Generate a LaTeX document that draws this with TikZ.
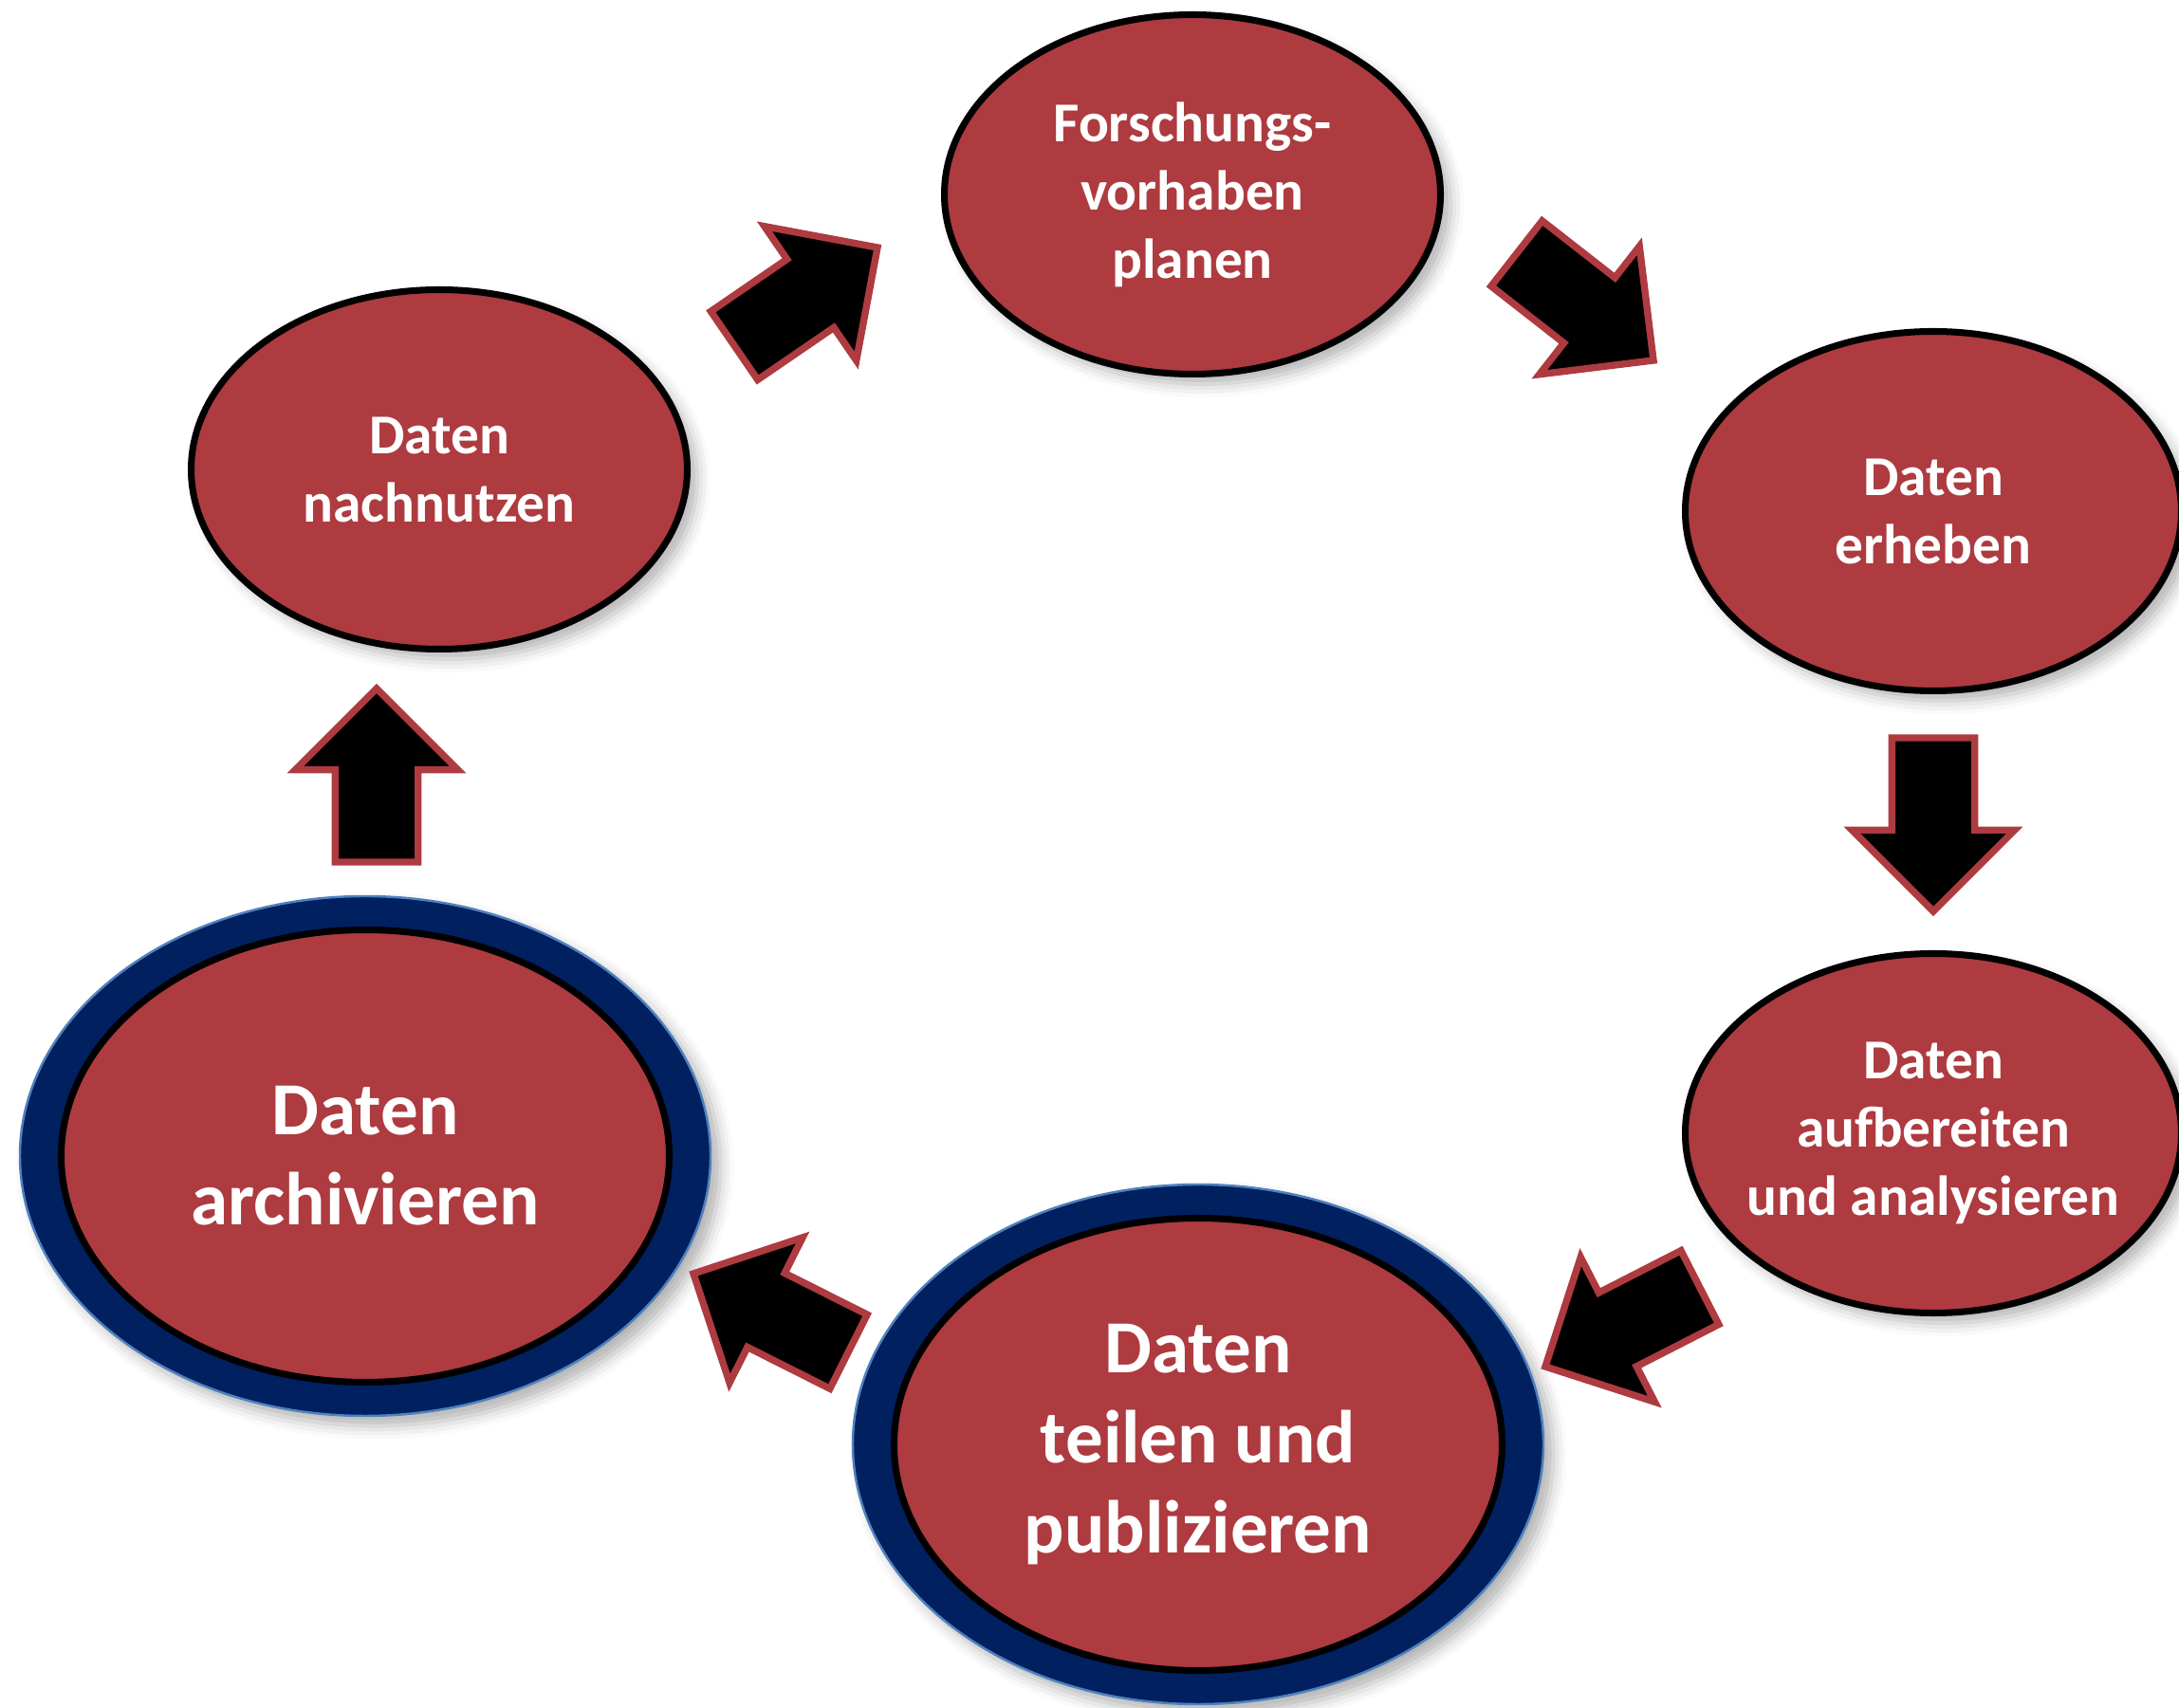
\documentclass[tikz,border=0pt]{standalone}
\usepackage{fontspec}
\newfontfamily\stagefont{Carlito}
\usetikzlibrary{shapes.geometric,shapes.arrows,shadows.blur}

\definecolor{stagered}{RGB}{173,59,64}
\definecolor{ringblue}{RGB}{0,32,96}
\definecolor{ringedge}{RGB}{79,129,189}

\tikzset{
  stage/.style={ellipse, draw=black, line width=2pt, fill=stagered,
    text=white, align=center, inner sep=0pt, inner xsep=-3mm,
    font=\stagefont\bfseries\fontsize{16.9}{20.5}\selectfont,
    minimum width=5.23cm, minimum height=3.79cm},
  shade/.style={blur shadow={shadow xshift=3pt, shadow yshift=-3pt,
    shadow blur radius=4pt, shadow opacity=30}},
  bigstage/.style={stage, minimum width=6.41cm, minimum height=4.77cm,
    font=\stagefont\bfseries\fontsize{22.5}{27}\selectfont},
  ring/.style={ellipse, fill=ringblue, draw=ringedge, line width=0.7pt,
    minimum width=7.28cm, minimum height=5.48cm, shade},
  flow/.style={single arrow, draw=stagered, fill=black, line width=2.1pt,
    minimum height=1.83cm, inner xsep=0pt, inner ysep=0.4cm,
    single arrow head extend=0.42cm, single arrow head indent=0pt,
    single arrow tip angle=90, outer sep=0pt, anchor=tip}
}

\begin{document}
\begin{tikzpicture}
  \useasboundingbox (0,0) rectangle (22.97,18.01);

  \node[stage, shade](Plan) at (12.57,15.96) {Forschungs-\\vorhaben\\planen};
  \node[stage, shade](Erheb) at (20.38,12.62) {Daten\\erheben};
  \node[stage, shade](Aufb) at (20.38,6.06) {Daten\\aufbereiten\\und analysieren};
  \node[ring](TeilRing) at (12.63,2.78) {};
  \node[bigstage](Teil) at (TeilRing) {Daten\\teilen und\\publizieren};
  \node[ring](ArchRing) at (3.85,5.82) {};
  \node[bigstage](Arch) at (ArchRing) {Daten\\archivieren};
  \node[stage, shade](Nach) at (4.63,13.06) {Daten\\nachnutzen};

  \node[flow, rotate=34.4](NachPlan) at (9.25,15.40) {};
  \node[flow, rotate=-38](PlanErheb) at (17.43,14.21) {};
  \node[flow, rotate=-90](ErhebAufb) at (20.38,8.40) {};
  \node[flow, rotate=207.1](AufbTeil) at (16.29,3.60) {};
  \node[flow, rotate=153.3](TeilArch) at (7.31,4.58) {};
  \node[flow, rotate=90](ArchNach) at (3.97,10.75) {};
\end{tikzpicture}
\end{document}
